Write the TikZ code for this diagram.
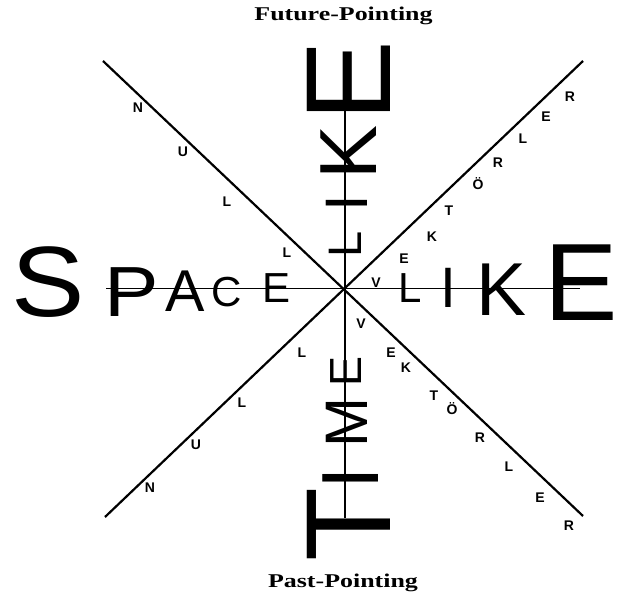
\documentclass[tikz,border=0pt]{standalone}
\usepackage{fontspec}
\setmainfont{Liberation Sans}
\newfontfamily\titlefont{Liberation Serif}
\usetikzlibrary{calc}

\begin{document}
\begin{tikzpicture}[x=1pt, y=1pt,
  axis/.style={black, line width=1.6pt},
  cone/.style={black, line width=2.2pt},
  bigl/.style={inner sep=0pt, outer sep=0pt},
  tinyl/.style={inner sep=0pt, outer sep=0pt, font=\fontsize{14}{14}\selectfont\bfseries},
  heading/.style={inner sep=0pt, anchor=base, xscale=1.33, transform shape,
    font=\titlefont\fontsize{19.5}{20}\selectfont\bfseries}]
  \useasboundingbox (0,0) rectangle (618,-601);
  % --- the two axes and the light cone ---
  \coordinate (o)     at (344,-288.5);
  \coordinate (west)  at (106,-288.5);
  \coordinate (east)  at (580,-288.5);
  \coordinate (north) at (345,-110);
  \coordinate (south) at (345,-518);
  \coordinate (nw) at (103,-61);
  \coordinate (se) at (583,-516);
  \coordinate (ne) at (583,-61);
  \coordinate (sw) at (105,-517);
  \draw[axis] (west) -- (east);
  \draw[axis] (north) -- (south);
  \draw[cone] (nw) -- (se);
  \draw[cone] (ne) -- (sw);
  % --- SPACE (left) and LIKE (right), growing outward ---
  \foreach \lx/\ly/\ls/\lw/\lt [count=\i] in {48.5/282.5/100/1.1/S, 131.5/292.5/71/1.15/P,
      185.5/291/59/1/A, 226.5/292/42/1/C, 276.5/288/42/1/E}
    \node[bigl, xscale=\lw, transform shape, font={\fontsize{\ls}{\ls}\selectfont}] (sp\i) at (\lx,-\ly) {\lt};
  \foreach \lx/\ly/\ls/\lt [count=\i] in {410/288/42/L, 448.5/287.5/57/I,
      501.5/290/75/K, 581/283/110/E}
    \node[bigl, font={\fontsize{\ls}{\ls}\selectfont}] (lr\i) at (\lx,-\ly) {\lt};
  % --- LIKE (up) and TIME (down), turned a quarter ---
  \foreach \lx/\ly/\ls/\lt [count=\i] in {345/244/47/L, 346.5/203/60/I,
      349/152.5/81/K, 348.5/81/121/E}
    \node[bigl, rotate=90, font={\fontsize{\ls}{\ls}\selectfont}] (lu\i) at (\lx,-\ly) {\lt};
  \foreach \lx/\ly/\ls/\lt [count=\i] in {348.5/525/121/T, 351/478/81/I,
      346.5/422.5/60/M, 346/371/45/E}
    \node[bigl, rotate=90, font={\fontsize{\ls}{\ls}\selectfont}] (td\i) at (\lx,-\ly) {\lt};
  % --- NULL along the left half of the cone ---
  \foreach \lx/\ly/\lt [count=\i] in {138/108/N, 183/152/U, 227/202/L, 287/253/L}
    \node[tinyl] (nu\i) at (\lx,-\ly) {\lt};
  \foreach \lx/\ly/\lt [count=\i] in {150/488/N, 196/445/U, 242/403/L, 302/353/L}
    \node[tinyl] (nd\i) at (\lx,-\ly) {\lt};
  % --- VEKTÖRLER along the right half ---
  \foreach \lx/\ly/\lt [count=\i] in {376/283/V, 404/259/E, 432/237/K, 449/211/T,
      478/184/Ö, 498/163/R, 523/139/L, 546/117/E, 570/97/R}
    \node[tinyl] (vu\i) at (\lx,-\ly) {\lt};
  \foreach \lx/\ly/\lt [count=\i] in {361/324/V, 391/353/E, 406/368/K, 434/396/T,
      452/409/Ö, 480/438/R, 509/467/L, 540/498/E, 569/526/R}
    \node[tinyl] (vd\i) at (\lx,-\ly) {\lt};
  % --- headings ---
  \node[heading] (future) at (343.5,-21) {Future-Pointing};
  \node[heading] (past)   at (343,-587)  {Past-Pointing};
\end{tikzpicture}
\end{document}
